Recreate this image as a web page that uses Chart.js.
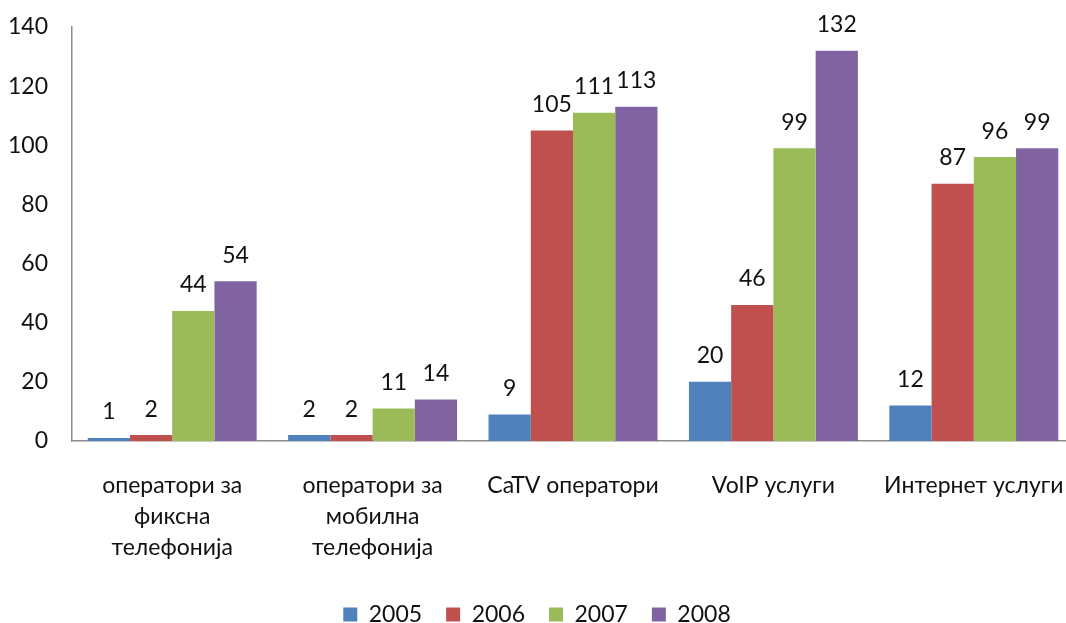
<!DOCTYPE html>
<html>
<head>
<meta charset="utf-8">
<script src="https://cdn.jsdelivr.net/npm/chart.js@4.4.0/dist/chart.umd.min.js"></script>
<style>
  html, body { margin: 0; padding: 0; background: #fff; overflow: hidden; }
  #wrap { width: 1076px; height: 636px; }
</style>
</head>
<body>
<div id="wrap"><canvas id="chart"></canvas></div>
<script>
// categories and series values
const categories = [
    ['оператори за', 'фиксна', 'телефонија'],
    ['оператори за', 'мобилна', 'телефонија'],
    'CaTV оператори',
    'VoIP услуги',
    'Интернет услуги'
];
const years = ['2005', '2006', '2007', '2008'];
const values2005 = [1, 2, 9, 20, 12];
const values2006 = [2, 2, 105, 46, 87];
const values2007 = [44, 11, 111, 99, 96];
const values2008 = [54, 14, 113, 132, 99];
const yTicks = [0, 20, 40, 60, 80, 100, 120, 140];

const colors = ['#4F81BD', '#C0504D', '#9BBB59', '#8064A2'];
const FONT = 'Lato, "Noto Sans", sans-serif';
const FS = 23;

Chart.defaults.font.family = FONT;
Chart.defaults.color = '#111';

// value labels above each bar
const barLabels = {
    id: 'barLabels',
    afterDatasetsDraw(chart) {
        const ctx = chart.ctx;
        ctx.save();
        ctx.font = FS + 'px ' + FONT;
        ctx.fillStyle = '#111';
        ctx.textAlign = 'center';
        ctx.textBaseline = 'middle';
        chart.data.datasets.forEach((ds, i) => {
            const meta = chart.getDatasetMeta(i);
            meta.data.forEach((bar, j) => {
                ctx.fillText(ds.data[j], bar.x, bar.y - 26);
            });
        });
        ctx.restore();
    }
};

new Chart(document.getElementById('chart'), {
    type: 'bar',
    data: {
        labels: categories,
        datasets: [values2005, values2006, values2007, values2008].map((d, i) => ({
            label: years[i],
            data: d,
            backgroundColor: colors[i],
            borderWidth: 0,
            barPercentage: 1,
            categoryPercentage: 0.843
        }))
    },
    options: {
        responsive: true,
        maintainAspectRatio: false,
        animation: false,
        layout: { padding: { top: 27, right: 2, left: 0, bottom: 0 } },
        plugins: {
            tooltip: { enabled: false },
            legend: {
                position: 'bottom',
                labels: {
                    boxWidth: 14,
                    boxHeight: 14,
                    padding: 24,
                    font: { size: FS },
                    color: '#111'
                }
            }
        },
        scales: {
            x: {
                afterFit(scale) {
                    scale.height = 138;
                    scale.paddingLeft = 0;
                    scale.paddingRight = 0;
                },
                grid: { display: false, drawTicks: false },
                border: { display: true, color: '#8c8c8c', width: 1.5 },
                ticks: {
                    padding: 29,
                    maxRotation: 0,
                    autoSkip: false,
                    font: { size: FS, lineHeight: 1.35 },
                    color: '#111'
                }
            },
            y: {
                min: 0,
                max: 140,
                afterFit(scale) {
                    scale.width = 72;
                    scale.paddingTop = 0;
                    scale.paddingBottom = 0;
                },
                afterBuildTicks(scale) { scale.ticks = yTicks.map(v => ({ value: v })); },
                grid: { display: false, drawTicks: false },
                border: { display: true, color: '#8c8c8c', width: 1.5 },
                ticks: {
                    padding: 24,
                    font: { size: FS },
                    color: '#111'
                }
            }
        }
    },
    plugins: [barLabels]
});
</script>
</body>
</html>
